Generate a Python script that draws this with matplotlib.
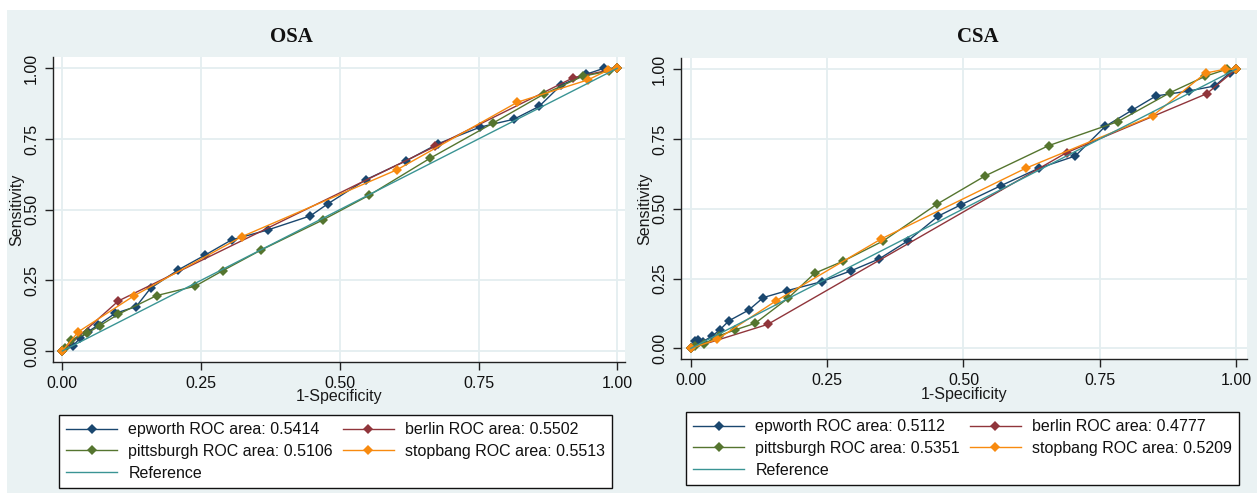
import matplotlib
matplotlib.use("Agg")
import matplotlib.pyplot as plt
from matplotlib.patches import Rectangle

# ---------------- data ----------------
panel_titles = ["OSA", "CSA"]
series_names = ["epworth", "berlin", "pittsburgh", "stopbang"]
roc_areas_osa = ["0.5414", "0.5502", "0.5106", "0.5513"]
roc_areas_csa = ["0.5112", "0.4777", "0.5351", "0.5209"]
tick_values = [0.0, 0.25, 0.5, 0.75, 1.0]
tick_labels = ["0.00", "0.25", "0.50", "0.75", "1.00"]

# OSA
epw_osa_fpr = [0.0, 0.019, 0.032, 0.046, 0.065, 0.095, 0.133, 0.159, 0.209, 0.258, 0.305, 0.370,
               0.447, 0.478, 0.547, 0.620, 0.677, 0.753, 0.814, 0.859, 0.899, 0.944, 0.976, 1.0]
epw_osa_tpr = [0.0, 0.018, 0.045, 0.068, 0.092, 0.133, 0.157, 0.222, 0.287, 0.340, 0.393, 0.428,
               0.478, 0.520, 0.606, 0.673, 0.733, 0.792, 0.820, 0.865, 0.941, 0.979, 1.0, 1.0]
ber_osa_fpr = [0.0, 0.101, 0.672, 0.921, 1.0]
ber_osa_tpr = [0.0, 0.177, 0.724, 0.967, 1.0]
pit_osa_fpr = [0.0, 0.005, 0.015, 0.044, 0.068, 0.101, 0.170, 0.239, 0.289, 0.358, 0.469, 0.553,
               0.662, 0.776, 0.868, 0.938, 0.985, 1.0]
pit_osa_tpr = [0.0, 0.009, 0.039, 0.062, 0.090, 0.130, 0.196, 0.229, 0.284, 0.357, 0.463, 0.551,
               0.681, 0.806, 0.909, 0.972, 0.990, 1.0]
stb_osa_fpr = [0.0, 0.029, 0.129, 0.323, 0.603, 0.820, 0.947, 0.984, 1.0]
stb_osa_tpr = [0.0, 0.068, 0.195, 0.404, 0.641, 0.880, 0.959, 0.994, 1.0]

# CSA
epw_csa_fpr = [0.0, 0.008, 0.014, 0.022, 0.039, 0.053, 0.070, 0.106, 0.133, 0.177, 0.240, 0.294,
               0.345, 0.398, 0.454, 0.496, 0.569, 0.638, 0.705, 0.760, 0.810, 0.853, 0.914, 0.961,
               0.988, 1.0]
epw_csa_tpr = [0.0, 0.026, 0.030, 0.024, 0.044, 0.066, 0.099, 0.137, 0.182, 0.207, 0.239, 0.278,
               0.320, 0.385, 0.474, 0.515, 0.583, 0.645, 0.689, 0.795, 0.854, 0.904, 0.922, 0.940,
               0.986, 1.0]
ber_csa_fpr = [0.0, 0.141, 0.689, 0.946, 1.0]
ber_csa_tpr = [0.0, 0.086, 0.701, 0.912, 1.0]
pit_csa_fpr = [0.0, 0.008, 0.024, 0.051, 0.081, 0.118, 0.178, 0.227, 0.280, 0.353, 0.451, 0.540,
               0.656, 0.783, 0.879, 0.943, 0.983, 1.0]
pit_csa_tpr = [0.0, 0.008, 0.016, 0.045, 0.066, 0.090, 0.179, 0.269, 0.313, 0.385, 0.516, 0.618,
               0.726, 0.812, 0.916, 0.974, 1.0, 1.0]
stb_csa_fpr = [0.0, 0.048, 0.156, 0.349, 0.614, 0.847, 0.944, 0.980, 1.0]
stb_csa_tpr = [0.0, 0.032, 0.170, 0.392, 0.645, 0.833, 0.986, 1.0, 1.0]

ref_x = [0.0, 1.0]
ref_y = [0.0, 1.0]

# ---------------- style ----------------
colors = ["#1a476f", "#90353b", "#55752f", "#f88a0f"]
ref_color = "#3a9494"
bg = "#eaf2f3"
grid_c = "#e4eef0"
W, H = 1257, 493

plt.rcParams["font.family"] = ["Liberation Sans", "DejaVu Sans"]

fig = plt.figure(figsize=(W / 100, H / 100), dpi=100, facecolor="white")
fig.patches.append(Rectangle((7 / W, 0), 1 - 7 / W, 1 - 10 / H, transform=fig.transFigure,
                             facecolor=bg, edgecolor="none", zorder=-10))

axes_px = [(53, 625, 57, 362), (681, 1247, 58, 359)]
xlims = [(-0.0168, 1.014), (-0.018, 1.020)]
ylims = [(-0.039, 1.040), (-0.038, 1.040)]
title_pos = [(291, 37), (978, 37)]
legend_px = [(59, 415), (686, 412)]

data = [
    [(epw_osa_fpr, epw_osa_tpr), (ber_osa_fpr, ber_osa_tpr), (pit_osa_fpr, pit_osa_tpr), (stb_osa_fpr, stb_osa_tpr)],
    [(epw_csa_fpr, epw_csa_tpr), (ber_csa_fpr, ber_csa_tpr), (pit_csa_fpr, pit_csa_tpr), (stb_csa_fpr, stb_csa_tpr)],
]
areas = [roc_areas_osa, roc_areas_csa]

for i in range(2):
    l, r, t, b = axes_px[i]
    ax = fig.add_axes([l / W, 1 - b / H, (r - l) / W, (b - t) / H])
    ax.set_facecolor("white")
    ax.set_xlim(*xlims[i])
    ax.set_ylim(*ylims[i])
    for v in tick_values:
        ax.axhline(v, color=grid_c, lw=1.3, zorder=0)
        ax.axvline(v, color=grid_c, lw=1.3, zorder=0)
    handles = []
    for k, (xs, ys) in enumerate(data[i]):
        h, = ax.plot(xs, ys, color=colors[k], lw=1.0, marker="D", ms=4.8, mew=0,
                     label=f"{series_names[k]} ROC area: {areas[i][k]}", zorder=3 + k)
        handles.append(h)
    hr, = ax.plot(ref_x, ref_y, color=ref_color, lw=1.0, label="Reference", zorder=8)
    handles.append(hr)

    for s in ["top", "right"]:
        ax.spines[s].set_visible(False)
    for s in ["left", "bottom"]:
        ax.spines[s].set_color("#222222")
        ax.spines[s].set_linewidth(1.0)
    ax.set_xticks(tick_values)
    ax.set_xticklabels(tick_labels)
    ax.set_yticks(tick_values)
    ax.set_yticklabels(tick_labels, rotation=90, va="center")
    ax.tick_params(axis="both", length=6, width=1, color="#222222", labelsize=11.5,
                   labelcolor="#111111", pad=4)
    ax.set_xlabel("1-Specificity", fontsize=11.5, color="#1a1a1a", labelpad=-1)
    ax.set_ylabel("Sensitivity", fontsize=11.5, color="#1a1a1a", labelpad=0)

    fig.text(title_pos[i][0] / W, 1 - title_pos[i][1] / H, panel_titles[i],
             ha="center", va="center", fontsize=15, fontweight="bold",
             family=["Liberation Serif", "DejaVu Serif"], color="#111111")

    lx, ly = legend_px[i]
    # column-major fill so rows read: epworth | berlin, pittsburgh | stopbang, Reference
    order = [handles[0], handles[2], handles[4], handles[1], handles[3]]
    leg = fig.legend(handles=order, labels=[h.get_label() for h in order], ncol=2,
                     loc="upper left", bbox_to_anchor=(lx / W, 1 - ly / H),
                     bbox_transform=fig.transFigure, fontsize=11.5, frameon=True,
                     fancybox=False, edgecolor="#111111", facecolor="white", framealpha=1,
                     handlelength=3.2, handletextpad=0.7, columnspacing=0.6,
                     labelspacing=0.42, borderpad=0.45, borderaxespad=0)
    leg.get_frame().set_linewidth(1.0)
    for txt in leg.get_texts():
        txt.set_color("#111111")

fig.savefig("out.png", dpi=100, facecolor=fig.get_facecolor())
